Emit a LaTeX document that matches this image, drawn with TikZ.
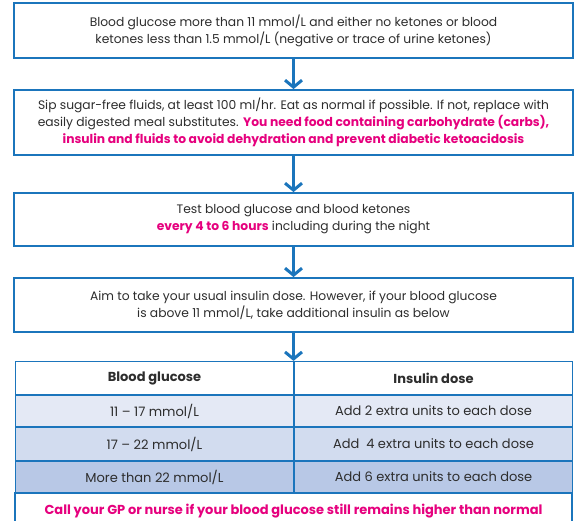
\documentclass[tikz,border=0pt]{standalone}
\usepackage{fontspec}
\setmainfont{Poppins}
\usetikzlibrary{arrows.meta}

\definecolor{flowblue}{RGB}{27,117,188}
\definecolor{alertpink}{RGB}{230,0,126}
\definecolor{textgray}{RGB}{45,45,45}
\definecolor{rowone}{RGB}{228,233,245}
\definecolor{rowtwo}{RGB}{210,220,239}
\definecolor{rowthree}{RGB}{184,200,230}

\newcommand{\alert}[1]{\textbf{\color{alertpink}#1}}

\begin{document}
\begin{tikzpicture}[x=1pt, y=-1pt,
    step box/.style={draw=flowblue, line width=1.8pt, fill=white,
        minimum width=559pt, inner sep=0pt, align=center,
        text=textgray, font=\fontsize{12.3}{17}\selectfont},
    cell/.style={draw=flowblue, line width=1.2pt,
        minimum width=278pt, minimum height=33pt, inner sep=0pt,
        text=textgray, font=\fontsize{13}{15}\selectfont},
    flow/.style={draw=flowblue, line width=3pt,
        -{Straight Barb[length=7pt, width=17pt]}}
]
    \useasboundingbox (0,0) rectangle (575,520);

    % flow boxes
    \node[step box, minimum height=55pt] (start) at (293.5,30.5)
        {Blood glucose more than 11 mmol/L and either no ketones or blood\\
         ketones less than 1.5\ mmol/L (negative or trace of urine ketones)};
    \node[step box, minimum height=65pt] (fluids) at (293.5,122.5)
        {Sip sugar-free fluids, at least 100 ml/hr. Eat as normal if possible. If not, replace with\\
         easily digested meal substitutes. \alert{You need food containing carbohydrate (carbs),}\\
         \alert{insulin and fluids to avoid dehydration and prevent diabetic ketoacidosis}};
    \node[step box, minimum height=53pt] (test) at (293.5,219.5)
        {Test blood glucose and blood ketones\\
         \alert{every 4 to 6 hours} including during the night};
    \node[step box, minimum height=54pt] (dose) at (293.5,305)
        {Aim to take your usual insulin dose. However, if your blood glucose\\
         is above 11 mmol/L, take additional insulin as below};

    % table
    \node[cell, fill=white, font=\fontsize{13}{15}\bfseries] (headL) at (154.5,378) {Blood glucose};
    \node[cell, fill=white, font=\fontsize{13}{15}\bfseries] (headR) at (433.5,378) {Insulin dose};
    \node[cell, fill=rowone, minimum height=32pt] (lowL) at (154.5,411) {11 -- 17 mmol/L};
    \node[cell, fill=rowone, minimum height=32pt] (lowR) at (433.5,411) {Add 2 extra units to each dose};
    \node[cell, fill=rowtwo, minimum height=34pt] (midL) at (154.5,444) {17 -- 22 mmol/L};
    \node[cell, fill=rowtwo, minimum height=34pt] (midR) at (433.5,444) {Add\ \ 4 extra units to each dose};
    \node[cell, fill=rowthree, minimum height=32pt] (highL) at (154.5,477) {More than 22 mmol/L};
    \node[cell, fill=rowthree, minimum height=32pt] (highR) at (433.5,477) {Add 6 extra units to each dose};
    \node[cell, fill=white, minimum width=557pt, minimum height=36pt,
        text=alertpink, font=\fontsize{13}{15}\bfseries] (callgp) at (293.5,511)
        {Call your GP or nurse if your blood glucose still remains higher than normal};

    % arrows
    \draw[flow] (start) -- (fluids);
    \draw[flow] (fluids) -- (test);
    \draw[flow] (test) -- (dose);
    \draw[flow] (dose) -- (dose |- headL.north);
\end{tikzpicture}
\end{document}
